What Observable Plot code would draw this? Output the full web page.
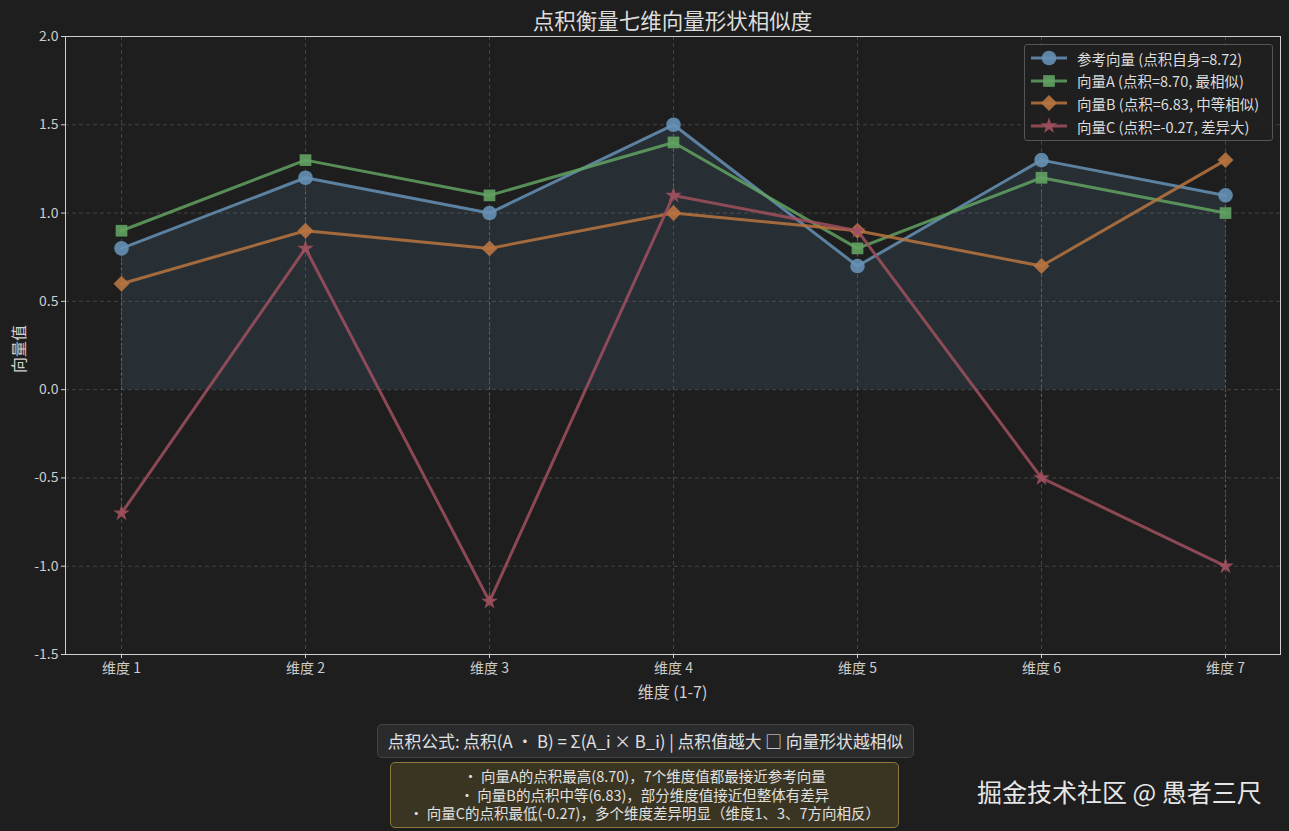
<!DOCTYPE html>
<html><head><meta charset="utf-8">
<script src="https://cdn.jsdelivr.net/npm/d3@7"></script>
<script src="https://cdn.jsdelivr.net/npm/@observablehq/plot@0.6"></script>
<style>
body{margin:0;background:#1e1e1e;font-family:"Noto Sans CJK SC","Noto Sans",sans-serif;}
#wrap{position:relative;width:1289px;height:831px;background:#1e1e1e;overflow:hidden;color:#dddddd}
.abs{position:absolute;white-space:nowrap}
#title{left:0;width:1345px;top:5px;text-align:center;font-size:21.5px;color:#dcdcdc;line-height:30px}
#ylab{left:18px;top:349px;transform:translate(-50%,-50%) rotate(-90deg);font-size:16px;color:#d0d0d0}
#xlab{left:0;width:1345px;top:679px;text-align:center;font-size:16px;color:#d0d0d0}
#legend{left:1024px;top:44px;width:247px;height:95px;border:1px solid #555;background:rgba(32,32,32,0.85);border-radius:3px;font-size:14.5px;color:#dddddd}
#legend .row{position:absolute;left:5px;height:22px;display:flex;align-items:center}
#legend svg{margin-right:9px}
#formula{left:377px;top:724px;width:535px;height:32px;line-height:32px;background:#2a2b2d;border:1px solid #444;border-radius:5px;text-align:center;font-size:16.8px;color:#e0e0e0}
#info{left:390px;top:762px;width:509px;height:66px;background:#3a3522;border:1px solid #8a7b3c;border-radius:5px;text-align:center;font-size:14.5px;line-height:18.5px;color:#e0e0e0;padding-top:4px;box-sizing:border-box}
#wm{left:977px;top:773px;font-size:25px;color:#e6e6e6}
</style></head>
<body><div id="wrap"></div>
<script>
const dims = ["维度 1","维度 2","维度 3","维度 4","维度 5","维度 6","维度 7"];
const refVals = [0.8, 1.2, 1.0, 1.5, 0.7, 1.3, 1.1];
const aVals = [0.9, 1.3, 1.1, 1.4, 0.8, 1.2, 1.0];
const bVals = [0.6, 0.9, 0.8, 1.0, 0.9, 0.7, 1.3];
const cVals = [-0.7, 0.8, -1.2, 1.1, 0.9, -0.5, -1.0];
const seriesNames = ["参考向量 (点积自身=8.72)","向量A (点积=8.70, 最相似)","向量B (点积=6.83, 中等相似)","向量C (点积=-0.27, 差异大)"];
const seriesColors = ["#6690b5","#62a262","#b87440","#a0505e"];
const seriesSymbols = ["circle","square","diamond2","star"];
const seriesR = [7.3, 6.6, 7.2, 5.2];
const yTicks = [-1.5,-1.0,-0.5,0.0,0.5,1.0,1.5,2.0];
const titleText = "点积衡量七维向量形状相似度";
const yLabel = "向量值";
const xLabel = "维度 (1-7)";
const formulaText = "点积公式: 点积(A · B) = Σ(A_i × B_i) | 点积值越大 □ 向量形状越相似";
const infoLines = ["• 向量A的点积最高(8.70)，7个维度值都最接近参考向量","• 向量B的点积中等(6.83)，部分维度值接近但整体有差异","• 向量C的点积最低(-0.27)，多个维度差异明显（维度1、3、7方向相反）"];
const watermark = "掘金技术社区 @ 愚者三尺";

const allVals = [refVals, aVals, bVals, cVals];
const rows = dims.map((d,i)=>({dim:d, ref:refVals[i], a:aVals[i], b:bVals[i], c:cVals[i]}));

const marks = [
  Plot.areaY(rows, {x:"dim", y1:0, y2:"ref", fill:"#5b86a8", fillOpacity:0.17, curve:"linear"}),
  Plot.ruleY(yTicks, {stroke:"#888", strokeOpacity:0.45, strokeDasharray:"4,3", strokeWidth:0.8}),
  Plot.ruleX(dims, {stroke:"#888", strokeOpacity:0.45, strokeDasharray:"4,3", strokeWidth:0.8}),
  Plot.ruleX(rows, {x:"dim", y1:"ref", y2:"c", stroke:"#b06070", strokeOpacity:0.55, strokeDasharray:"2,3", strokeWidth:1.2}),
];
allVals.forEach((vals, k) => {
  const data = dims.map((d,i)=>({dim:d, v:vals[i]}));
  marks.push(Plot.line(data, {x:"dim", y:"v", stroke:seriesColors[k], strokeWidth:3, strokeOpacity:0.85}));
  marks.push(Plot.dot(data, {x:"dim", y:"v", fill:seriesColors[k], fillOpacity:0.9, stroke:"none", symbol:seriesSymbols[k], r:seriesR[k]}));
});
marks.push(Plot.frame({stroke:"#cfcfcf", strokeWidth:1}));
marks.push(Plot.axisY(yTicks, {tickFormat:d=>d.toFixed(1), tickSize:4, tickPadding:3, stroke:"#cfcfcf", fill:"#cccccc", fontSize:14, label:null}));
marks.push(Plot.axisX(dims, {tickSize:4, tickPadding:5, stroke:"#cfcfcf", fill:"#cccccc", fontSize:14, label:null}));

const chart = Plot.plot({
  width:1289, height:700,
  marginTop:36, marginBottom:46, marginLeft:65, marginRight:9,
  style:{background:"transparent", color:"#cccccc", fontFamily:"'Noto Sans CJK SC','Noto Sans',sans-serif", overflow:"visible"},
  x:{type:"point", domain:dims, padding:0.3},
  y:{domain:[-1.5,2.0]},
  marks
});
const wrap = document.getElementById("wrap");
chart.style.position="absolute"; chart.style.left="0"; chart.style.top="0";
wrap.appendChild(chart);

function add(id, html){const d=document.createElement("div");d.id=id;d.className="abs";d.innerHTML=html;wrap.appendChild(d);return d;}
add("title", titleText);
add("ylab", yLabel);
add("xlab", xLabel);
add("formula", formulaText);
add("info", infoLines.join("<br>"));
add("wm", watermark);

const sym = {circle:d3.symbolCircle, square:d3.symbolSquare, diamond2:d3.symbolDiamond2, star:d3.symbolStar};
const leg = add("legend","");
seriesNames.forEach((n,k)=>{
  const r = document.createElement("div"); r.className="row"; r.style.top=(2+k*22.7)+"px";
  const area = Math.PI*seriesR[k]**2;
  const p = d3.symbol(sym[seriesSymbols[k]], area)();
  r.innerHTML = `<svg width="38" height="18"><line x1="1" x2="37" y1="9" y2="9" stroke="${seriesColors[k]}" stroke-width="3" stroke-opacity="0.85"/><path transform="translate(19,9)" d="${p}" fill="${seriesColors[k]}" fill-opacity="0.9"/></svg><span>${n}</span>`;
  leg.appendChild(r);
});
</script>
</body></html>
